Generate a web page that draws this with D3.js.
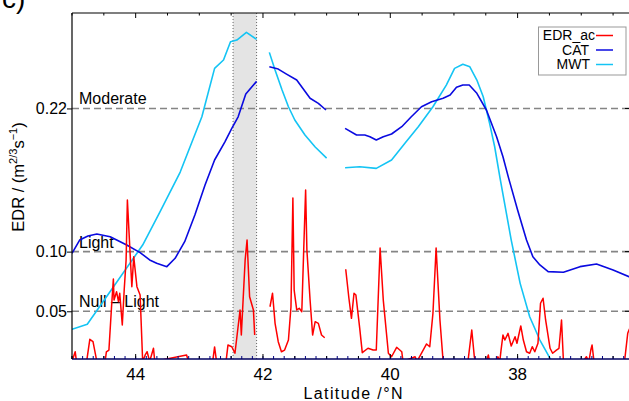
<!DOCTYPE html>
<html>
<head>
<meta charset="utf-8">
<script src="https://cdn.jsdelivr.net/npm/d3@7"></script>
<style>
  body { margin: 0; background: #fff; }
  svg { display: block; font-family: "Liberation Sans", Arial, sans-serif; }
</style>
</head>
<body>
<svg id="chart" width="629" height="401"></svg>
<script>
// EDR_ac, three pieces (gaps = no data)
const edrLatA = [45.00, 44.95, 44.93, 44.77, 44.72, 44.67, 44.61, 44.48, 44.46, 44.42, 44.38, 44.35, 44.34, 44.30, 44.27, 44.25, 44.21, 44.18, 44.15, 44.13, 44.09, 44.06, 44.03, 43.98, 43.93, 43.89, 43.85, 43.82, 43.78, 43.72, 43.70, 43.20, 43.17, 42.79, 42.76, 42.73, 42.58, 42.55, 42.49, 42.44, 42.36, 42.34, 42.28, 42.25, 42.21, 42.15, 42.13];
const edrValA = [0.008, 0.0161, 0.008, 0.008, 0.0265, 0.0245, 0.008, 0.008, 0.0159, 0.0175, 0.0527, 0.0770, 0.0594, 0.0664, 0.0580, 0.0651, 0.0385, 0.0678, 0.0930, 0.1432, 0.1013, 0.0706, 0.0957, 0.0706, 0.0636, 0.008, 0.0134, 0.0161, 0.008, 0.0190, 0.008, 0.0134, 0.008, 0.008, 0.0201, 0.008, 0.008, 0.0217, 0.0203, 0.0148, 0.0511, 0.0301, 0.0930, 0.1097, 0.0622, 0.0511, 0.0301];

const edrLatB = [41.89, 41.85, 41.81, 41.76, 41.71, 41.66, 41.60, 41.56, 41.53, 41.51, 41.47, 41.43, 41.39, 41.36, 41.33, 41.31, 41.26, 41.22, 41.18, 41.13, 41.08, 41.03];
const edrValB = [0.0538, 0.0651, 0.0399, 0.0245, 0.0161, 0.0175, 0.0259, 0.0538, 0.1449, 0.0678, 0.0511, 0.0525, 0.0496, 0.1013, 0.1516, 0.1013, 0.0594, 0.0301, 0.0413, 0.0399, 0.0301, 0.0278];

const edrLatC = [40.70, 40.65, 40.61, 40.57, 40.54, 40.48, 40.44, 40.35, 40.27, 40.22, 40.16, 40.11, 40.03, 39.98, 39.90, 39.82, 39.80, 39.61, 39.58, 39.43, 39.38, 39.33, 39.28, 39.22, 39.17, 38.83, 38.78, 38.72, 38.68, 38.66, 38.49, 38.46, 38.44, 38.33, 38.31, 38.28, 38.26, 38.23, 38.20, 38.15, 38.10, 38.04, 38.01, 37.95, 37.91, 37.86, 37.81, 37.77, 37.73, 37.68, 37.64, 37.60, 37.56, 37.49, 37.45, 37.39, 37.35, 37.31, 37.28, 36.97, 36.92, 36.88, 36.85, 36.83, 36.80, 36.32, 36.27, 36.25, 36.20];
const edrValC = [0.0852, 0.0609, 0.0441, 0.0651, 0.0636, 0.0357, 0.0153, 0.0190, 0.0175, 0.0175, 0.1030, 0.0594, 0.0148, 0.0119, 0.0198, 0.0161, 0.008, 0.0119, 0.008, 0.0226, 0.0203, 0.0483, 0.1030, 0.0427, 0.008, 0.008, 0.008, 0.0343, 0.0119, 0.008, 0.008, 0.0134, 0.008, 0.008, 0.0119, 0.008, 0.0175, 0.0301, 0.0259, 0.0315, 0.0209, 0.0287, 0.0232, 0.0377, 0.0259, 0.0161, 0.0148, 0.0203, 0.0161, 0.0232, 0.0567, 0.0609, 0.0427, 0.0190, 0.0148, 0.0175, 0.0190, 0.0427, 0.008, 0.008, 0.0119, 0.008, 0.0175, 0.0217, 0.008, 0.008, 0.0315, 0.0343, 0.040];

// CAT
const catLatA = [45.00, 44.88, 44.75, 44.61, 44.40, 44.14, 43.93, 43.78, 43.67, 43.51, 43.38, 43.23, 43.07, 42.91, 42.76, 42.60, 42.49, 42.39, 42.27, 42.10];
const catValA = [0.0986, 0.1097, 0.1131, 0.1148, 0.1125, 0.1055, 0.0992, 0.0930, 0.0902, 0.0874, 0.0944, 0.1083, 0.1307, 0.1558, 0.1768, 0.1918, 0.2033, 0.2130, 0.2321, 0.2427];
const catLatB = [41.90, 41.76, 41.63, 41.47, 41.26, 41.13, 41.01];
const catValB = [0.2549, 0.2530, 0.2488, 0.2438, 0.2285, 0.2243, 0.2187];
const catLatC = [40.71, 40.53, 40.40, 40.32, 40.22, 40.11, 39.98, 39.82, 39.67, 39.51, 39.35, 39.17, 39.06, 38.96, 38.86, 38.76, 38.64, 38.49, 38.33, 38.23, 38.14, 38.00, 37.86, 37.76, 37.65, 37.52, 37.28, 37.02, 36.76, 36.50, 36.25, 36.10];
const catValC = [0.2033, 0.1977, 0.1977, 0.1963, 0.1935, 0.1963, 0.1986, 0.2047, 0.2130, 0.2214, 0.2256, 0.2285, 0.2312, 0.2377, 0.2396, 0.2396, 0.2327, 0.2187, 0.1963, 0.1795, 0.1614, 0.1349, 0.1097, 0.0957, 0.0888, 0.0832, 0.0827, 0.0874, 0.0896, 0.0846, 0.0790, 0.0760];

// MWT
const mwtLatA = [45.00, 44.76, 43.89, 43.62, 43.30, 42.96, 42.76, 42.62, 42.51, 42.41, 42.26, 42.10];
const mwtValA = [0.0349, 0.0391, 0.1055, 0.1332, 0.1667, 0.2130, 0.2536, 0.2606, 0.2759, 0.2773, 0.2838, 0.2779];
const mwtLatB = [41.90, 41.81, 41.70, 41.60, 41.50, 41.34, 41.18, 41.00];
const mwtValB = [0.2670, 0.2522, 0.2354, 0.2214, 0.2103, 0.1977, 0.1877, 0.1784];
const mwtLatC = [40.71, 40.48, 40.22, 39.98, 39.77, 39.56, 39.33, 39.12, 38.99, 38.86, 38.75, 38.64, 38.54, 38.44, 38.36, 38.28, 38.20, 38.10, 37.96, 37.81, 37.65, 37.49, 37.40];
const mwtValC = [0.1703, 0.1711, 0.1698, 0.1768, 0.1908, 0.2047, 0.2214, 0.2396, 0.2536, 0.2570, 0.2549, 0.2438, 0.2298, 0.2075, 0.1879, 0.1628, 0.1391, 0.1097, 0.0734, 0.0454, 0.0259, 0.0106, 0.000];

// thresholds and shaded band
const levelValues = [0.22, 0.10, 0.05];
const levelNames = ["Moderate", "Light", "Null \u2013 Light"];
const bandLat = [42.47, 42.10];
const xLabelTicks = [44, 42, 40, 38];

const width = 629, height = 401;
const margin = { top: 13, left: 72, bottom: 359 };

const svg = d3.select("#chart");

let x = d3.scaleLinear().domain([45, 36.25]).range([margin.left, width]);
let y = d3.scaleLinear().domain([0.01, 0.30]).range([margin.bottom, margin.top]);

svg.append("defs").append("clipPath").attr("id", "plotclip")
  .append("rect")
  .attr("x", margin.left).attr("y", margin.top)
  .attr("width", width - margin.left).attr("height", margin.bottom - margin.top);

// grey band
svg.append("rect")
  .attr("x", x(bandLat[0])).attr("y", margin.top)
  .attr("width", x(bandLat[1]) - x(bandLat[0]))
  .attr("height", margin.bottom - margin.top)
  .attr("fill", "#e4e4e4");
svg.selectAll(".bandedge").data(bandLat).enter().append("line")
  .attr("x1", d => x(d)).attr("x2", d => x(d))
  .attr("y1", margin.top).attr("y2", margin.bottom)
  .attr("stroke", "#666").attr("stroke-width", 1)
  .attr("stroke-dasharray", "1,2");

// dashed level lines + labels
svg.selectAll(".level").data(levelValues).enter().append("line")
  .attr("x1", margin.left).attr("x2", width)
  .attr("y1", d => y(d)).attr("y2", d => y(d))
  .attr("stroke", "#858585").attr("stroke-width", 1.6)
  .attr("stroke-dasharray", "7,4");
svg.selectAll(".levellab").data(levelValues).enter().append("text")
  .attr("x", margin.left + 7).attr("y", d => y(d) - 4)
  .attr("font-size", 16)
  .text((d, i) => levelNames[i]);

// curves
const line = d3.line().x(d => x(d[0])).y(d => y(d[1]));
const plot = svg.append("g").attr("clip-path", "url(#plotclip)");

function drawSeries(pieces, color, w) {
  pieces.forEach(p => {
    plot.append("path")
      .datum(d3.zip(p[0], p[1]))
      .attr("d", line)
      .attr("fill", "none")
      .attr("stroke", color)
      .attr("stroke-width", w)
      .attr("stroke-linejoin", "round");
  });
}

drawSeries([[mwtLatA, mwtValA], [mwtLatB, mwtValB], [mwtLatC, mwtValC]], "#14c4f4", 1.6);
drawSeries([[catLatA, catValA], [catLatB, catValB], [catLatC, catValC]], "#0a0ae0", 1.6);
drawSeries([[edrLatA, edrValA], [edrLatB, edrValB], [edrLatC, edrValC]], "#ff0000", 1.5);

// axes
const halfDeg = d3.range(45, 36, -0.5);
const sixthDeg = d3.range(0, 54).map(i => 45 - i / 6);

// top: ticks pointing down
svg.append("line").attr("x1", margin.left).attr("x2", width)
  .attr("y1", margin.top).attr("y2", margin.top).attr("stroke", "#000").attr("stroke-width", 1.2);
svg.selectAll(".ttick").data(halfDeg).enter().append("line")
  .attr("x1", d => x(d)).attr("x2", d => x(d))
  .attr("y1", margin.top).attr("y2", d => margin.top + (d % 2 === 0 ? 5 : 2.5))
  .attr("stroke", "#000");

// bottom: navy axis, ticks pointing up
svg.selectAll(".btick6").data(sixthDeg).enter().append("line")
  .attr("x1", d => x(d)).attr("x2", d => x(d))
  .attr("y1", margin.bottom).attr("y2", margin.bottom - 3)
  .attr("stroke", "#000080");
svg.selectAll(".btick").data(halfDeg).enter().append("line")
  .attr("x1", d => x(d)).attr("x2", d => x(d))
  .attr("y1", margin.bottom).attr("y2", d => margin.bottom - (d % 2 === 0 ? 5 : 3))
  .attr("stroke", "#000");
svg.append("line").attr("x1", margin.left).attr("x2", width)
  .attr("y1", margin.bottom).attr("y2", margin.bottom).attr("stroke", "#000060").attr("stroke-width", 1.4);

svg.selectAll(".xlab").data(xLabelTicks).enter().append("text")
  .attr("x", d => x(d)).attr("y", 380)
  .attr("text-anchor", "middle").attr("font-size", 17)
  .text(d => d);

// left axis
let yAxis = d3.axisLeft(y).tickValues(levelValues).tickFormat(d3.format(".2f"))
  .tickSize(5).tickPadding(0);
let gy = svg.append("g").attr("transform", "translate(" + margin.left + ",0)").call(yAxis);
gy.select(".domain").remove();
gy.selectAll("line").attr("stroke", "#000");
gy.selectAll("text").attr("font-size", 16).attr("font-family", "Liberation Sans, Arial, sans-serif").attr("fill", "#000");
svg.append("line").attr("x1", margin.left).attr("x2", margin.left)
  .attr("y1", margin.top).attr("y2", margin.bottom).attr("stroke", "#000").attr("stroke-width", 1.2);

// small right-side ticks
svg.selectAll(".rtick").data(levelValues).enter().append("line")
  .attr("x1", width - 4).attr("x2", width)
  .attr("y1", d => y(d)).attr("y2", d => y(d))
  .attr("stroke", "#000");

// axis titles
svg.append("text")
  .attr("x", 353).attr("y", 399)
  .attr("text-anchor", "middle").attr("font-size", 16)
  .attr("textLength", 99).attr("lengthAdjust", "spacing")
  .text("Latitude /\u00b0N");

let yt = svg.append("text")
  .attr("transform", "translate(24,177) rotate(-90)")
  .attr("text-anchor", "middle").attr("font-size", 16.5);
yt.append("tspan").text("EDR / (m");
yt.append("tspan").attr("font-size", 11).attr("dy", -7).text("2/3");
yt.append("tspan").attr("dy", 7).text("s");
yt.append("tspan").attr("font-size", 11).attr("dy", -7).text("\u22121");
yt.append("tspan").attr("dy", 7).text(")");

// panel letter, mostly cut off
svg.append("text").attr("x", 2).attr("y", 8).attr("font-size", 28).text("c)");

// legend
const legendNames = ["EDR_ac", "CAT", "MWT"];
const legendColors = ["#ff0000", "#0a0ae0", "#14c4f4"];
const legendEnds = [595, 589, 590];
let lg = svg.append("g");
lg.append("rect").attr("x", 538.5).attr("y", 27).attr("width", 87.5).attr("height", 48)
  .attr("fill", "#fff").attr("stroke", "#999").attr("stroke-width", 1);
legendNames.forEach((n, i) => {
  let by = 40 + i * 14.5;
  lg.append("text").attr("x", legendEnds[i]).attr("y", by)
    .attr("text-anchor", "end").attr("font-size", 14).text(n);
  lg.append("line").attr("x1", 596).attr("x2", 613)
    .attr("y1", by - 4.5).attr("y2", by - 4.5)
    .attr("stroke", legendColors[i]).attr("stroke-width", 1.5);
});
</script>
</body>
</html>
